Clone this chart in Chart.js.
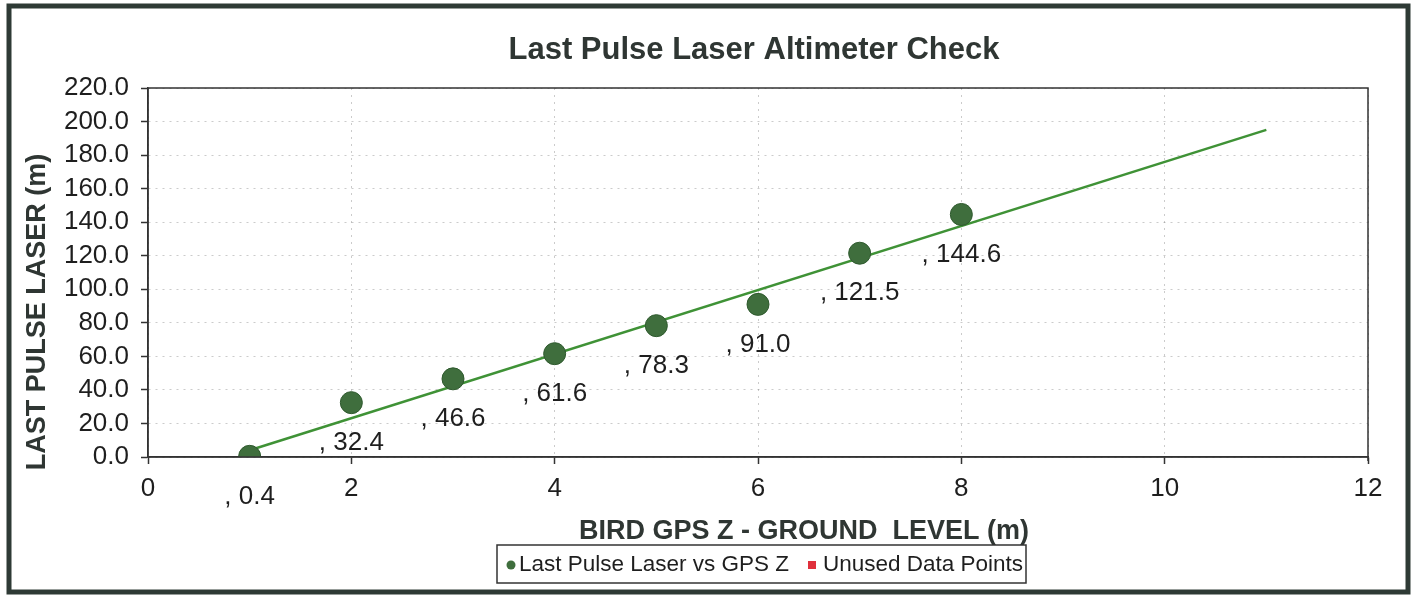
<!DOCTYPE html>
<html><head><meta charset="utf-8">
<style>html,body{margin:0;padding:0;background:#fff}#wrap{width:1416px;height:596px}</style>
<script src="https://cdn.jsdelivr.net/npm/chart.js@4.4.0/dist/chart.umd.min.js"></script>
</head><body><div id="wrap"><canvas id="c" width="1416" height="596"></canvas></div>
<script>
const gpsZ = [1, 2, 3, 4, 5, 6, 7, 8];
const laserZ = [0.4, 32.4, 46.6, 61.6, 78.3, 91.0, 121.5, 144.6];
const unusedX = [];
const unusedY = [];
const trendX = [1, 11];
const trendY = [4.0, 195.0];
const xTicks = [0, 2, 4, 6, 8, 10, 12];
const yTicks = [0, 20, 40, 60, 80, 100, 120, 140, 160, 180, 200, 220];
const titleText = 'Last Pulse Laser Altimeter Check';
const xTitle = 'BIRD GPS Z - GROUND  LEVEL (m)';
const yTitle = 'LAST PULSE LASER (m)';
const seriesNames = ['Last Pulse Laser vs GPS Z', 'Unused Data Points'];

const FONT = "'Liberation Sans', Arial, sans-serif";
const pointColor = '#3f6e3d';
const unusedColor = '#e0303c';

const decor = {
  id: 'decor',
  beforeDraw(chart) {
    const c = chart.ctx;
    c.save(); c.fillStyle = '#fff'; c.fillRect(0, 0, chart.width, chart.height); c.restore();
  },
  afterDatasetsDraw(chart) {
    const c = chart.ctx, xs = chart.scales.x, ys = chart.scales.y;
    c.save();
    c.font = '26px ' + FONT; c.fillStyle = '#1e1e1e'; c.textAlign = 'center'; c.textBaseline = 'middle';
    laserZ.forEach((v, i) => {
      const px = xs.getPixelForValue(gpsZ[i]);
      const py = ys.getPixelForValue(v);
      c.fillText(', ' + v.toFixed(1), px, py + 40);
    });
    c.restore();
  },
  afterDraw(chart) {
    const c = chart.ctx, a = chart.chartArea;
    c.save();
    c.setLineDash([]);
    c.strokeStyle = '#333'; c.lineWidth = 1.5;
    c.beginPath();
    c.moveTo(a.left, a.bottom); c.lineTo(a.left, a.top); c.lineTo(a.right, a.top); c.lineTo(a.right, a.bottom + 4);
    c.moveTo(a.left, a.bottom); c.lineTo(a.right, a.bottom);
    c.stroke();
    c.fillStyle = '#2f3633'; c.textAlign = 'center'; c.textBaseline = 'middle';
    c.font = 'bold 31px ' + FONT;
    c.fillText(titleText, 754, 50);
    c.font = 'bold 27px ' + FONT;
    c.fillText(xTitle, 804, 532);
    c.save(); c.translate(38, 312); c.rotate(-Math.PI / 2);
    c.fillText(yTitle, 0, 0); c.restore();
    c.strokeStyle = '#333'; c.lineWidth = 1.5;
    c.strokeRect(497, 545, 529, 38);
    c.font = '22.5px ' + FONT; c.textAlign = 'left';
    c.beginPath(); c.arc(511, 565, 4.5, 0, Math.PI * 2); c.fillStyle = pointColor; c.fill();
    c.fillStyle = '#1e1e1e'; c.fillText(seriesNames[0], 519, 565);
    c.fillStyle = unusedColor; c.fillRect(808, 561, 8, 8);
    c.fillStyle = '#1e1e1e'; c.fillText(seriesNames[1], 823, 565);
    c.strokeStyle = '#2e3a35'; c.lineWidth = 5;
    c.strokeRect(9, 6, 1399, 586);
    c.restore();
  }
};

const gridOpts = {
  color: 'rgba(140,140,140,0.45)', lineWidth: 1,
  tickColor: '#333', tickLength: 7, tickBorderDash: [], tickWidth: 1.5
};
const borderOpts = { color: '#333', width: 1.5, dash: [2, 5] };

new Chart(document.getElementById('c'), {
  type: 'scatter',
  data: {
    datasets: [
      {
        label: seriesNames[0],
        data: gpsZ.map((x, i) => ({ x, y: laserZ[i] })),
        backgroundColor: pointColor, borderColor: '#2f5a2e', borderWidth: 1,
        pointRadius: 11, showLine: false, order: 0
      },
      {
        label: seriesNames[1],
        data: unusedX.map((x, i) => ({ x, y: unusedY[i] })),
        backgroundColor: unusedColor, pointStyle: 'rect', pointRadius: 5, showLine: false, order: 1
      },
      {
        label: 'trend',
        data: trendX.map((x, i) => ({ x, y: trendY[i] })),
        showLine: true, pointRadius: 0, borderColor: '#3f9236', borderWidth: 2.5, order: 2
      }
    ]
  },
  options: {
    responsive: false, animation: false, devicePixelRatio: 1,
    layout: { padding: { top: 88, right: 48, left: 0, bottom: 0 } },
    plugins: { legend: { display: false }, title: { display: false }, tooltip: { enabled: false } },
    scales: {
      x: {
        type: 'linear', min: 0, max: 12,
        afterBuildTicks: s => { s.ticks = xTicks.map(v => ({ value: v })); },
        afterFit: s => { s.height = 139; },
        ticks: { font: { size: 26, family: FONT }, color: '#1e1e1e', padding: 9, maxRotation: 0, autoSkip: false },
        grid: gridOpts,
        border: borderOpts
      },
      y: {
        type: 'linear', min: 0, max: 220,
        afterBuildTicks: s => { s.ticks = yTicks.map(v => ({ value: v })); },
        afterFit: s => { s.width = 148; },
        ticks: { font: { size: 26, family: FONT }, color: '#1e1e1e', padding: 12, autoSkip: false, callback: v => v.toFixed(1) },
        grid: gridOpts,
        border: borderOpts
      }
    }
  },
  plugins: [decor]
});
</script></body></html>
